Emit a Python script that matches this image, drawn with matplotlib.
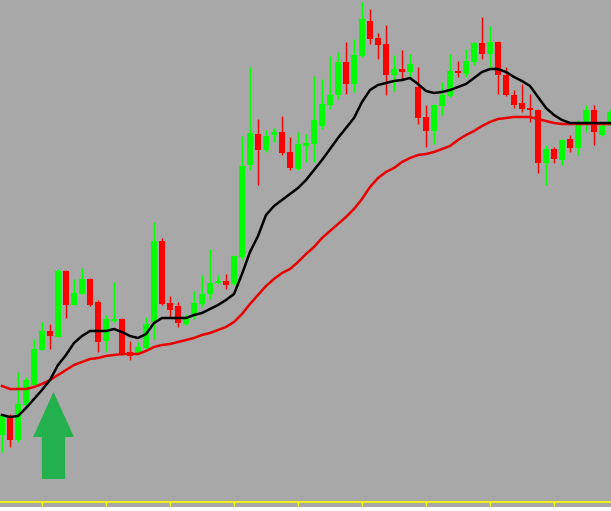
import matplotlib
matplotlib.use("Agg")
import matplotlib.pyplot as plt
from matplotlib.patches import FancyArrow, Rectangle
import numpy as np

# candle values (arbitrary price units), one per bar
opens = [67, 85, 62, 97, 117, 152, 171, 165, 231, 197, 208, 223, 200, 161, 181, 183,
         150, 149, 154, 180, 261, 199, 196, 178, 187, 198, 208, 219, 221, 218, 245, 337,
         368, 352, 367, 370, 350, 333, 356, 358, 376, 397, 407, 440, 418, 446, 481, 464,
         458, 427, 433, 430, 415, 385, 371, 396, 406, 431, 428, 440, 459, 448, 460, 427,
         407, 399, 394, 392, 339, 353, 342, 363, 354, 380, 392, 367, 378]
highs = [88, 88, 130, 125, 163, 180, 178, 233, 232, 223, 234, 224, 202, 187, 220, 184,
         161, 160, 185, 280, 264, 206, 200, 188, 211, 227, 253, 227, 228, 247, 366, 435,
         383, 372, 374, 386, 365, 370, 368, 426, 423, 446, 450, 460, 463, 500, 493, 469,
         477, 447, 452, 448, 435, 397, 398, 420, 448, 441, 453, 460, 485, 476, 461, 435,
         412, 418, 408, 393, 357, 355, 363, 367, 382, 397, 397, 380, 393]
lows = [50, 55, 60, 97, 117, 152, 153, 165, 184, 197, 208, 196, 150, 151, 180, 147,
        142, 148, 153, 163, 197, 185, 175, 177, 183, 195, 203, 218, 213, 217, 243, 332,
        317, 350, 360, 347, 332, 332, 340, 340, 373, 393, 403, 408, 410, 445, 458, 443,
        407, 411, 423, 425, 378, 355, 358, 387, 405, 425, 425, 437, 443, 433, 408, 406,
        394, 390, 380, 329, 317, 339, 337, 350, 347, 370, 357, 366, 376]
closes = [87, 62, 98, 122, 153, 171, 166, 231, 197, 209, 223, 197, 160, 183, 182, 148,
          146, 155, 178, 261, 198, 192, 179, 184, 199, 208, 219, 221, 217, 246, 336, 369,
          352, 366, 370, 349, 334, 358, 359, 382, 398, 407, 440, 418, 447, 483, 463, 457,
          427, 433, 430, 438, 384, 371, 397, 407, 431, 429, 441, 459, 448, 460, 427, 407,
          397, 393, 392, 339, 353, 343, 362, 354, 377, 392, 370, 376, 390]

# moving averages
ma_fast = [87, 85, 86, 94, 103, 112, 122, 137, 147, 159, 166, 171, 171, 171, 173, 170,
           166, 164, 168, 179, 184, 184, 184, 184, 187, 189, 193, 197, 202, 208, 228, 250,
           266, 287, 296, 302, 308, 314, 322, 332, 342, 353, 364, 374, 384, 400, 412, 417,
           419, 421, 422, 424, 418, 411, 409, 410, 412, 415, 418, 424, 430, 433, 433, 430,
           425, 421, 416, 405, 394, 387, 382, 379, 379, 379, 379, 379, 379]
ma_slow = [116, 113, 113, 113, 115, 118, 122, 127, 132, 137, 140, 143, 144, 146, 147, 148,
           148, 148, 151, 155, 157, 158, 160, 162, 164, 167, 169, 172, 175, 180, 188, 198,
           207, 216, 223, 229, 233, 240, 248, 255, 264, 271, 278, 285, 293, 303, 315, 324,
           330, 334, 340, 344, 347, 348, 350, 353, 356, 362, 367, 371, 376, 380, 383, 384,
           385, 385, 385, 383, 381, 379, 378, 378, 378, 378, 378, 378, 378]

bg = "#A8A8A8"
up_col = "#00FF00"
down_col = "#FF0000"

W, H = 611, 511
fig = plt.figure(figsize=(W / 100, H / 100), dpi=100, facecolor=bg)
fig.patches.append(Rectangle((0, 0), 1, 4 / H, transform=fig.transFigure,
                             facecolor="white", edgecolor="none"))
ax = fig.add_axes([0, 9 / H, 1, 502 / H])
ax.set_facecolor(bg)

o = np.array(opens)
h = np.array(highs)
l = np.array(lows)
c = np.array(closes)
x = np.arange(len(o))
cols = np.where(c >= o, up_col, down_col)

ax.vlines(x, l, h, colors=cols, linewidth=1.0, zorder=2)
body_lo = np.minimum(o, c)
body_h = np.maximum(np.abs(c - o), 2)
ax.bar(x, body_h, bottom=body_lo, width=0.7, color=cols, linewidth=0, zorder=3)

ax.plot(x, ma_slow, color="#E80000", lw=1.8, zorder=4)
ax.plot(x, ma_fast, color="black", lw=1.8, zorder=5)

# green buy arrow
ax.add_patch(FancyArrow(6.44, 23, 0, 87, width=2.9, head_width=5.1, head_length=45,
                        length_includes_head=True, color="#22B14C", lw=0, zorder=6))

ax.set_xlim(-0.25, 76.125)
ax.set_ylim(0, 502)

for s in ["top", "left", "right"]:
    ax.spines[s].set_visible(False)
ax.spines["bottom"].set_color("#FFFF00")
ax.spines["bottom"].set_linewidth(1.2)
ax.set_xticks(np.arange(5, 77, 8))
ax.set_xticklabels([])
ax.set_yticks([])
ax.tick_params(axis="x", colors="#FFFF00", length=3, width=1, direction="out")

fig.savefig("out.png", dpi=100, facecolor=bg)
